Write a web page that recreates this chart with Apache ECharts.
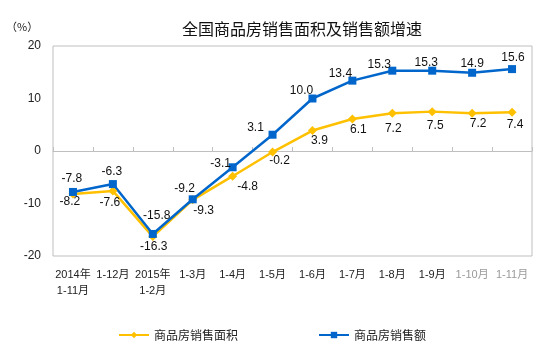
<!DOCTYPE html>
<html>
<head>
<meta charset="utf-8">
<script src="https://cdn.jsdelivr.net/npm/echarts@6/dist/echarts.min.js"></script>
<style>html,body{margin:0;padding:0;background:#fff}#c{width:545px;height:349px}</style>
</head>
<body>
<div id="c"></div>
<script>
var categories = ['2014年\n1-11月', '1-12月', '2015年\n1-2月', '1-3月', '1-4月', '1-5月', '1-6月', '1-7月', '1-8月', '1-9月', '1-10月', '1-11月'];
var areaGrowth = [-8.2, -7.6, -16.3, -9.3, -4.8, -0.2, 3.9, 6.1, 7.2, 7.5, 7.2, 7.4];
var salesGrowth = [-7.8, -6.3, -15.8, -9.2, -3.1, 3.1, 10.0, 13.4, 15.3, 15.3, 14.9, 15.6];
var yTicks = [-20, -10, 0, 10, 20];
var seriesNames = ['商品房销售面积', '商品房销售额'];

// label placement offsets (style only)
var areaLabelOffsets = [[-3,8],[-3,12],[1,10],[11,11],[15,10],[7,9],[7,10],[6,11],[1,15],[3,14],[6,10],[3,13]];
var salesLabelOffsets = [[-1,-13],[-1,-12],[4,-18],[-8,-11],[-12,-4],[-17,-7],[-11,-8],[-12,-7],[-13,-6],[-6,-8],[0,-9],[1,-11]];

var YELLOW = '#FFC000', BLUE = '#0066CC';
var FONT = '"Liberation Sans", Arial, "Noto Sans CJK SC", sans-serif';

function mk(vals, offs) {
  return vals.map(function (v, i) {
    return { value: v, label: { offset: offs[i] } };
  });
}

var chart = echarts.init(document.getElementById('c'));
chart.setOption({
  animation: false,
  backgroundColor: '#fff',
  title: {
    text: '全国商品房销售面积及销售额增速',
    left: 177, top: 16,
    textStyle: { fontSize: 16, fontWeight: 'normal', color: '#111', fontFamily: '"Noto Sans CJK SC", sans-serif' }
  },
  graphic: [{
    type: 'text', left: 6, top: 21,
    style: { text: '（%）', fontSize: 11, fill: '#222', fontFamily: '"Noto Sans CJK SC", sans-serif' }
  }],
  legend: {
    left: 113, top: 324, itemWidth: 30, itemHeight: 8, itemGap: 80,
    textStyle: { fontSize: 12, color: '#222', fontFamily: '"Noto Sans CJK SC", sans-serif' },
    data: seriesNames
  },
  grid: { left: 53, right: 13, top: 46, bottom: 93, show: true, borderColor: '#BFBFBF', borderWidth: 1, backgroundColor: 'transparent' },
  xAxis: [{
    type: 'category', data: categories, position: 'bottom',
    axisLine: { show: false, onZero: false }, axisTick: { show: false },
    axisLabel: {
      interval: 0, margin: 11, fontSize: 11, lineHeight: 16, fontFamily: FONT,
      color: function (v, i) { return i >= 10 ? '#9a9a9a' : '#222'; }
    }
  }, {
    type: 'category', data: categories, position: 'bottom',
    axisLine: { show: true, onZero: true, lineStyle: { color: '#BFBFBF', width: 1 } },
    axisTick: { show: true, inside: true, interval: 0, length: 4, lineStyle: { color: '#BFBFBF' } },
    axisLabel: { show: false }
  }],
  yAxis: {
    type: 'value', min: yTicks[0], max: yTicks[yTicks.length - 1], interval: 10,
    axisLine: { show: false }, axisTick: { show: false }, splitLine: { show: false },
    axisLabel: { margin: 12, fontSize: 12, color: '#222', fontFamily: FONT }
  },
  series: [{
    name: seriesNames[0], type: 'line', xAxisIndex: 0,
    data: mk(areaGrowth, areaLabelOffsets),
    symbol: 'diamond', symbolSize: 9,
    lineStyle: { color: YELLOW, width: 2.5 }, itemStyle: { color: YELLOW },
    label: { show: true, position: 'inside', fontSize: 12, color: '#111', fontFamily: FONT,
      formatter: function (p) { return p.value.toFixed(1); } }
  }, {
    name: seriesNames[1], type: 'line', xAxisIndex: 0,
    data: mk(salesGrowth, salesLabelOffsets),
    symbol: 'rect', symbolSize: 8,
    lineStyle: { color: BLUE, width: 2.5 }, itemStyle: { color: BLUE },
    label: { show: true, position: 'inside', fontSize: 12, color: '#111', fontFamily: FONT,
      formatter: function (p) { return p.value.toFixed(1); } }
  }]
});
</script>
</body>
</html>
